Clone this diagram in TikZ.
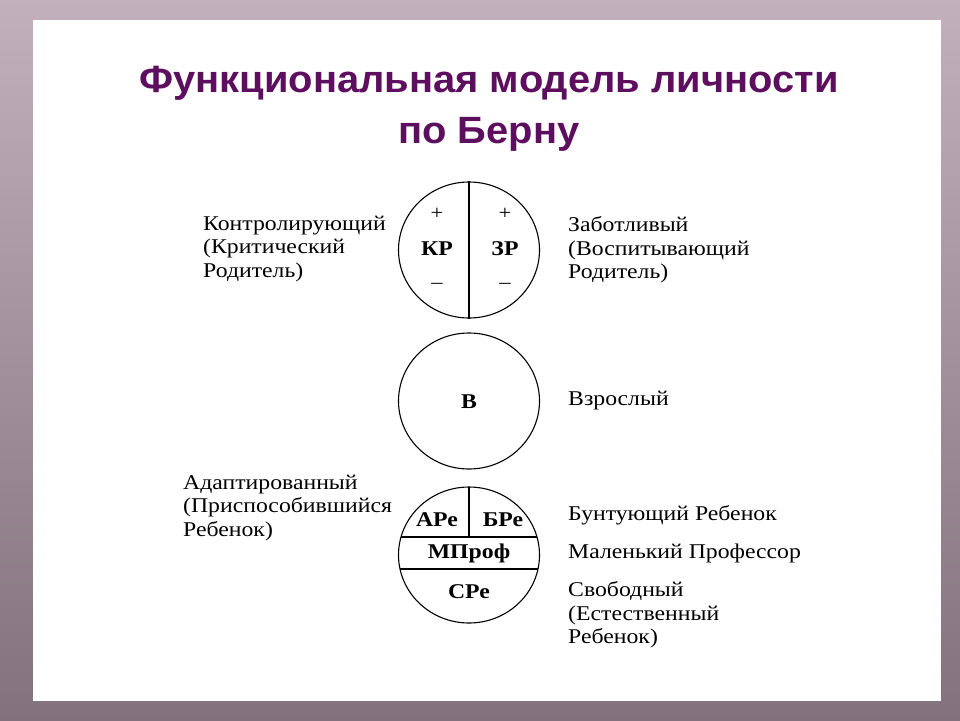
\documentclass[tikz,border=0pt]{standalone}
\usepackage{fontspec}
\setmainfont{Liberation Serif}
\setsansfont{Liberation Sans}
\usetikzlibrary{shapes.geometric}
\definecolor{titlepurple}{RGB}{94,14,94}
\definecolor{frametop}{RGB}{194,176,188}
\definecolor{framebottom}{RGB}{130,114,124}
\newfontfamily\widefont[FakeStretch=1.13]{Liberation Serif}
\newfontfamily\titlefont[FakeStretch=1.05]{Liberation Sans}
\tikzset{
		% circles for the ego states and the texts round them
		ego circle/.style={ellipse,draw,line width=1.1pt,minimum width=141,minimum height=136,inner sep=0},
		state label/.style={font=\widefont\bfseries\fontsize{21}{24}\selectfont,inner sep=0},
		sign label/.style={font=\widefont\fontsize{20}{22}\selectfont,inner sep=0},
		side label/.style={anchor=west,align=left,inner sep=0,font=\widefont\fontsize{21}{23.5}\selectfont}
	}
\begin{document}
\begin{tikzpicture}
		[
			x=1pt,y=-1pt,
			title text/.style={font=\titlefont\bfseries\fontsize{38}{51}\selectfont,text=titlepurple,align=center,inner sep=0}
		]
		\useasboundingbox (0,0) rectangle (960,720);
		\shade [top color=frametop,bottom color=framebottom] (0,0) rectangle (960,720);
		\fill [white] (33,20) rectangle (941,701);
		\node [title text] (title) at (489,109) {Функциональная модель личности\\по Берну};
		% Parent
		\node [ego circle] (parent) at (469,250) {};
		\draw [line width=1.1pt] (parent.north) -- (parent.south);
		\node [state label] (KP) at (437,249) {КР};
		\node [state label] (ZP) at (505,249) {ЗР};
		\node [sign label] (KP+) at (437,214) {+};
		\node [sign label] (ZP+) at (505,214) {+};
		\node [sign label] (KP-) at (437,286) {–};
		\node [sign label] (ZP-) at (505,286) {–};
		\node [side label] (control) at (203,249) {Контролирующий\\(Критический\\Родитель)};
		\node [side label] (care) at (568,250) {Заботливый\\(Воспитывающий\\Родитель)};
		% Adult
		\node [ego circle] (adult) at (469,401) {};
		\node [state label] (B) at (469,402) {В};
		\node [side label] (grown) at (568,401) {Взрослый};
		% Child
		\node [ego circle] (child) at (469,555) {};
		\begin{scope}
			\clip (469,555) ellipse (70.5 and 68);
			\draw [line width=1.1pt] (380,537) -- (560,537);
			\draw [line width=1.1pt] (380,569) -- (560,569);
			\draw [line width=1.1pt] (child.north) -- (469,537);
		\end{scope}
		\node [state label] (APe) at (437,520) {АРе};
		\node [state label] (BPe) at (503,520) {БРе};
		\node [state label] (MProf) at (469,553) {МПроф};
		\node [state label] (CPe) at (469,592) {СРе};
		\node [side label] (adapted) at (183,508) {Адаптированный\\(Приспособившийся\\Ребенок)};
		\node [side label] (rebel) at (568,515) {Бунтующий Ребенок};
		\node [side label] (prof) at (568,553) {Маленький Профессор};
		\node [side label] (free) at (568,615) {Свободный\\(Естественный\\Ребенок)};
	\end{tikzpicture}
\end{document}
